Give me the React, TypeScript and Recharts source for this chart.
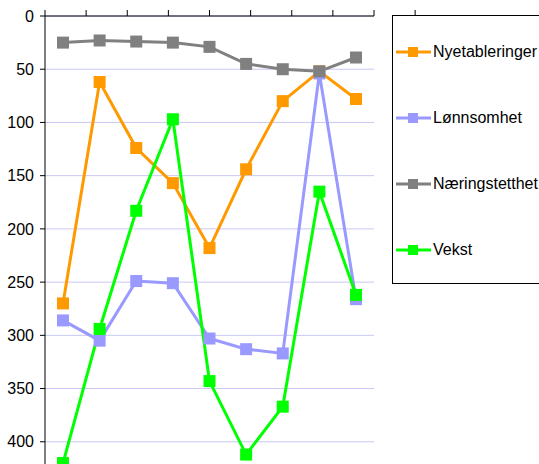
import React from "react";
import {
  LineChart, Line, XAxis, YAxis, CartesianGrid,
} from "recharts";

const categories = ["1", "2", "3", "4", "5", "6", "7", "8", "9"];
const nyetableringer = [270, 62, 124, 157, 218, 144, 80, 52, 78];
const lonnsomhet = [286, 305, 249, 251, 303, 313, 317, 54, 266];
const naeringstetthet = [25, 23, 24, 25, 29, 45, 50, 52, 39];
const vekst = [420, 294, 183, 97, 343, 412, 367, 165, 262];
const yTicks = [0, 50, 100, 150, 200, 250, 300, 350, 400];
const boundaryTicks = [0, 1, 2, 3, 4, 5, 6, 7, 8, 9];

const SERIES = [
  { key: "Nyetableringer", values: nyetableringer, color: "#ff9900" },
  { key: "Lønnsomhet", values: lonnsomhet, color: "#9999ff" },
  { key: "Næringstetthet", values: naeringstetthet, color: "#808080" },
  { key: "Vekst", values: vekst, color: "#00ff00" },
];

const data = categories.map((c, i) => {
  const row: Record<string, string | number> = { name: c };
  SERIES.forEach((s) => { row[s.key] = s.values[i]; });
  return row;
});

const FONT = '"Liberation Sans", Arial, sans-serif';

function SquareDot(color: string) {
  return (props: any) => {
    const { cx, cy, index } = props;
    if (cx == null || cy == null) return <g key={index} />;
    return <rect key={index} x={cx - 6} y={cy - 6} width={12} height={12} fill={color} />;
  };
}

function LegendBox() {
  return (
    <div style={{ position: "absolute", left: 392, top: 15, width: 170, height: 269, border: "1px solid #000", boxSizing: "border-box", fontFamily: FONT }}>
      {SERIES.map((s, i) => (
        <div key={s.key} style={{ position: "absolute", left: 3, top: 27 + i * 66, display: "flex", alignItems: "center", height: 18 }}>
          <svg width={35} height={12} style={{ display: "block" }}>
            <line x1={0} y1={6} x2={35} y2={6} stroke={s.color} strokeWidth={3} />
            <rect x={12} y={1} width={10} height={10} fill={s.color} />
          </svg>
          <span style={{ fontSize: 16, color: "#000", marginLeft: 2, whiteSpace: "nowrap" }}>{s.key}</span>
        </div>
      ))}
    </div>
  );
}

export default function App() {
  return (
    <div style={{ position: "absolute", left: 0, top: 0, width: 539, height: 464, overflow: "hidden", background: "#fff" }}>
      <LineChart width={539} height={495} data={data} margin={{ top: 0, right: 165, bottom: 0, left: 0 }}>
        <CartesianGrid vertical={false} stroke="#c8c8f4" strokeWidth={1} />
        <XAxis dataKey="name" hide padding={{ left: 18, right: 18 }} />
        <XAxis
          xAxisId="b"
          type="number"
          orientation="top"
          domain={[0, 9]}
          ticks={boundaryTicks}
          allowDataOverflow
          height={16}
          tick={() => <g />}
          tickSize={6}
          axisLine={{ stroke: "#000" }}
          tickLine={{ stroke: "#000" }}
        />
        <YAxis
          reversed
          domain={[0, 450]}
          ticks={yTicks}
          interval={0}
          width={45}
          tickSize={5}
          tickMargin={6}
          axisLine={{ stroke: "#000" }}
          tickLine={{ stroke: "#000" }}
          tick={{ fontSize: 16, fill: "#000", fontFamily: FONT }}
        />
        <YAxis yAxisId="r" orientation="right" width={0} tick={false} tickLine={false} axisLine={{ stroke: "#808080" }} domain={[0, 450]} />
        {SERIES.map((s) => (
          <Line
            key={s.key}
            dataKey={s.key}
            stroke={s.color}
            strokeWidth={3}
            dot={SquareDot(s.color)}
            activeDot={false}
            isAnimationActive={false}
          />
        ))}
      </LineChart>
      <LegendBox />
    </div>
  );
}
